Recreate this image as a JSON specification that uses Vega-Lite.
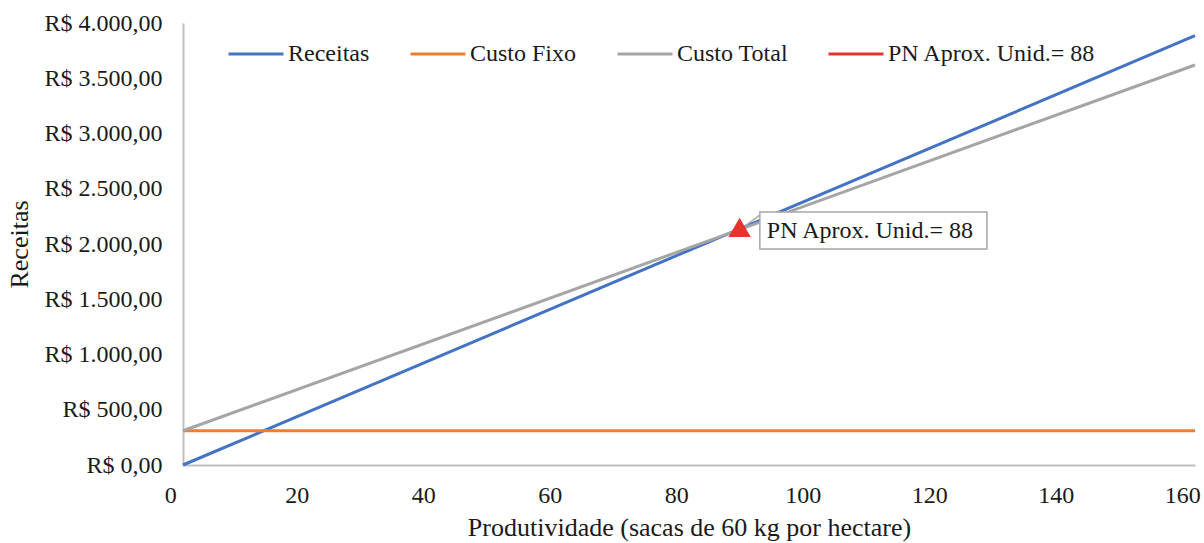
{
  "$schema": "https://vega.github.io/schema/vega-lite/v6.json",
  "width": 1012,
  "height": 442,
  "autosize": {"type": "none"},
  "padding": {"left": 183, "top": 23, "right": 9, "bottom": 78},
  "background": "white",
  "config": {
    "view": {"stroke": null},
    "font": "'Liberation Serif', 'Times New Roman', 'DejaVu Serif', serif",
    "axis": {
      "grid": false,
      "ticks": false,
      "domainColor": "#BFBFBF",
      "domainWidth": 2,
      "labelFont": "'Liberation Serif', 'Times New Roman', 'DejaVu Serif', serif",
      "labelFontSize": 24,
      "labelColor": "#1a1a1a",
      "titleFont": "'Liberation Serif', 'Times New Roman', 'DejaVu Serif', serif",
      "titleFontSize": 26,
      "titleFontWeight": "normal",
      "titleColor": "#1a1a1a"
    }
  },
  "datasets": {
    "linhas": [
      {"serie": "Receitas", "x": 0, "y": 0},
      {"serie": "Receitas", "x": 160, "y": 3885},
      {"serie": "Custo Fixo", "x": 0, "y": 310},
      {"serie": "Custo Fixo", "x": 160, "y": 310},
      {"serie": "Custo Total", "x": 0, "y": 310},
      {"serie": "Custo Total", "x": 160, "y": 3620}
    ],
    "pn": [
      {"serie": "PN Aprox. Unid.= 88", "x": 88, "y": 2150}
    ],
    "caixa": [
      {"x": 91.2, "x2": 127.1, "y": 1955, "y2": 2290, "texto": "PN Aprox. Unid.= 88", "tx": 92.3, "ty": 2122}
    ],
    "seta": [
      {"x": 88.9, "y": 2165, "x2": 91.2, "y2": 2262}
    ]
  },
  "layer": [
    {
      "data": {"name": "linhas"},
      "mark": {"type": "line", "strokeWidth": 3},
      "encoding": {
        "x": {
          "field": "x",
          "type": "quantitative",
          "scale": {"domain": [0, 160], "nice": false, "zero": false},
          "axis": {
            "title": "Produtividade (sacas de 60 kg por hectare)",
            "values": [0, 20, 40, 60, 80, 100, 120, 140, 160],
            "labelOffset": -12.65,
            "labelFlush": false,
            "labelOverlap": false,
            "labelPadding": 18,
            "titlePadding": 7
          }
        },
        "y": {
          "field": "y",
          "type": "quantitative",
          "scale": {"domain": [0, 4000], "nice": false},
          "axis": {
            "title": "Receitas",
            "values": [0, 500, 1000, 1500, 2000, 2500, 3000, 3500, 4000],
            "labelExpr": "'R$ ' + replace(replace(replace(format(datum.value, ',.2f'), ',', '#'), '.', ','), '#', '.')",
            "labelPadding": 21,
            "labelOverlap": false,
            "titlePadding": 11
          }
        },
        "color": {
          "field": "serie",
          "type": "nominal",
          "scale": {
            "domain": ["Receitas", "Custo Fixo", "Custo Total", "PN Aprox. Unid.= 88"],
            "range": ["#4472C4", "#ED7D31", "#A5A5A5", "#E8322E"]
          },
          "legend": {
            "orient": "none",
            "legendX": 44,
            "legendY": 2,
            "direction": "horizontal",
            "title": null,
            "symbolType": "stroke",
            "symbolSize": 3025,
            "symbolStrokeWidth": 3,
            "labelFont": "'Liberation Serif', 'Times New Roman', 'DejaVu Serif', serif",
            "labelFontSize": 24,
            "labelColor": "#1a1a1a",
            "labelLimit": 400,
            "labelOffset": 3,
            "columnPadding": 34
          }
        }
      }
    },
    {
      "data": {"name": "seta"},
      "mark": {"type": "rule", "color": "#A6A6A6", "strokeWidth": 1.5},
      "encoding": {
        "x": {"field": "x", "type": "quantitative"},
        "y": {"field": "y", "type": "quantitative"},
        "x2": {"field": "x2"},
        "y2": {"field": "y2"}
      }
    },
    {
      "data": {"name": "caixa"},
      "mark": {"type": "rect", "fill": "white", "stroke": "#A6A6A6", "strokeWidth": 1.5},
      "encoding": {
        "x": {"field": "x", "type": "quantitative"},
        "x2": {"field": "x2"},
        "y": {"field": "y", "type": "quantitative"},
        "y2": {"field": "y2"}
      }
    },
    {
      "data": {"name": "caixa"},
      "mark": {"type": "text", "align": "left", "baseline": "middle", "font": "'Liberation Serif', 'Times New Roman', 'DejaVu Serif', serif", "fontSize": 24, "color": "#1a1a1a"},
      "encoding": {
        "x": {"field": "tx", "type": "quantitative"},
        "y": {"field": "ty", "type": "quantitative"},
        "text": {"field": "texto"}
      }
    },
    {
      "data": {"name": "pn"},
      "mark": {"type": "point", "shape": "triangle-up", "filled": true, "size": 500, "opacity": 1},
      "encoding": {
        "x": {"field": "x", "type": "quantitative"},
        "y": {"field": "y", "type": "quantitative"},
        "color": {"field": "serie", "type": "nominal"}
      }
    }
  ]
}
